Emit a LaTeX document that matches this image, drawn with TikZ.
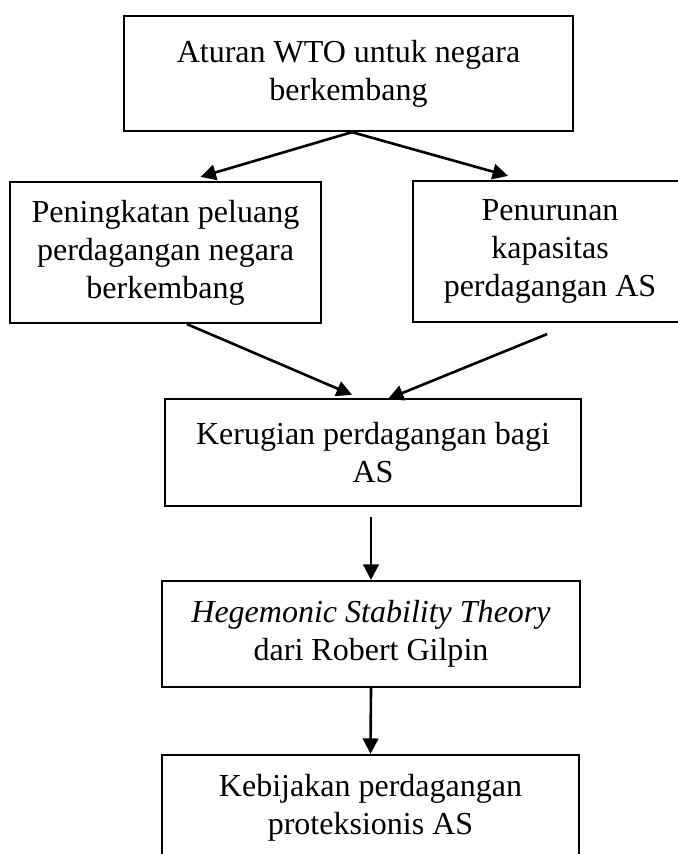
\documentclass[tikz,border=0pt]{standalone}
\usepackage{fontspec}
\setmainfont{Liberation Serif}
\usetikzlibrary{arrows.meta,calc}
\begin{document}
\begin{tikzpicture}[x=0.3623pt, y=-0.3623pt, >={Triangle[length=5.6pt,width=5.6pt]},
        kotak/.style={draw, thick, align=center, inner sep=0pt, font=\fontsize{11.6}{13.8}\selectfont},
        panah/.style={->, line width=0.95pt}]
        \useasboundingbox (0,0) rectangle (678,854);
        
        % Baris atas
        \node[kotak, minimum width=162.7pt, minimum height=41.7pt] (wto) at (348.5,73.5) {Aturan WTO untuk negara\\berkembang};
        
        % Baris kedua
        \node[kotak, minimum width=112.7pt, minimum height=51.1pt] (peluang) at (165.5,252.5) {Peningkatan peluang\\perdagangan negara\\berkembang};
        \node[kotak, minimum width=99.3pt, minimum height=51.1pt] (kapasitas) at (550,251.5) {Penurunan\\kapasitas\\perdagangan AS};
        
        % Kolom tengah
        \node[kotak, minimum width=150.7pt, minimum height=38.8pt] (rugi) at (373,452.5) {Kerugian perdagangan bagi\\AS};
        \node[kotak, minimum width=151.4pt, minimum height=38.4pt] (teori) at (371,634) {\textit{Hegemonic Stability Theory}\\dari Robert Gilpin};
        \node[kotak, minimum width=151.1pt, minimum height=38.4pt] (kebijakan) at (370.5,808) {Kebijakan perdagangan\\proteksionis AS};
        
        % Panah
        \draw[panah] ($(wto.south)+(3.5,0)$) -- ($(peluang.north)+(35,-4)$);
        \draw[panah] ($(wto.south)+(3.5,0)$) -- ($(kapasitas.north)+(-42,-4)$);
        \draw[panah] ($(peluang.south)+(21.5,0)$) -- ($(rugi.north)+(-21,-3)$);
        \draw[panah] ($(kapasitas.south)+(-3,11)$) -- ($(rugi.north)+(15,1)$);
        \draw[panah] ($(rugi.south)+(-2,10)$) -- (teori.north);
        \draw[panah] (teori.south) -- (kebijakan.north);
    \end{tikzpicture}
\end{document}
